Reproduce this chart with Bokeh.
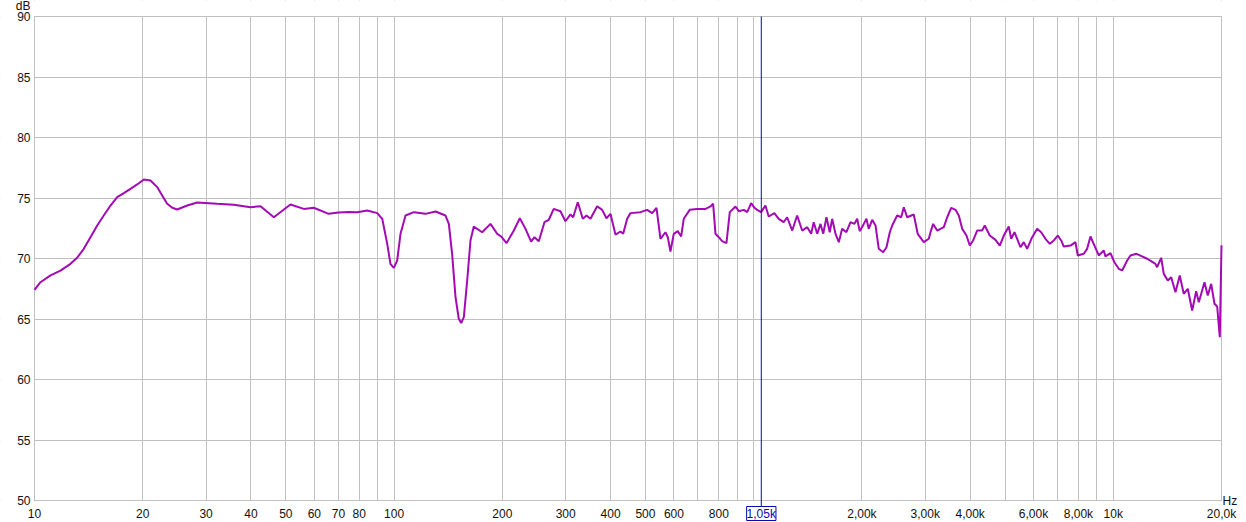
import math
from bokeh.plotting import figure
from bokeh.models import FixedTicker, LinearAxis, LogAxis, Label
from bokeh.embed import file_html
from bokeh.resources import INLINE

# ---- data ----
freq_hz = [10, 10.39, 11.08, 11.81, 12.59, 13.14, 13.71, 14.31, 14.94, 15.58, 16.27, 16.98, 17.72, 18.49, 19.3,
           20.14, 21.02, 21.94, 22.65, 23.39, 24.16, 24.94, 26.59, 28.35,
           32.21, 35.83, 39.87, 42.52, 46.3, 51.5, 56.1, 59.8, 65.8, 70, 75, 79.0, 84.2, 89.8, 92.7, 95.7, 97.7,
           99.8, 102, 104.2, 107.6, 113.4, 122.3, 130.4, 139, 142, 145, 148.2, 151.3, 153.7, 156.3, 159.7, 163.1,
           166.6, 175.8, 185.4, 193.5, 198.5, 205.4, 215.3, 223.7, 232, 240.5, 245.7, 252.6, 261.9, 269.3, 278,
           290.2, 299.6, 309.4, 314.8, 324.2, 334.8, 342.8, 351.7, 367.1, 379, 389.6, 399.7, 412.7, 426.1, 433.6,
           444.8, 454.3, 484.5, 505.6, 522, 536.7, 550.6, 568.5, 577, 586.9, 599.5, 615, 628.6, 639.1, 664, 696.5,
           734.5, 758.4, 771.5, 783, 799.7, 817, 840, 858.1, 890, 909.2, 938.9, 959.5, 984, 1005, 1022.6, 1049,
           1078, 1101, 1142, 1174, 1212, 1239, 1280, 1321, 1364, 1409, 1445, 1469, 1502, 1534, 1561, 1594, 1628,
           1653, 1689, 1725, 1762, 1811, 1859, 1907, 1940, 1972, 2024, 2059, 2089, 2136, 2182, 2228, 2292, 2341,
           2391, 2428, 2506, 2572, 2615, 2672, 2787, 2859, 2972, 3069, 3103, 3156, 3238, 3379, 3453, 3543, 3642,
           3719, 3801, 3907, 3990, 4077, 4183, 4319, 4392, 4535, 4704, 4836, 4961, 5122, 5202, 5313, 5521, 5638,
           5762, 5950, 6143, 6302, 6479, 6660, 6834, 7011, 7165, 7285, 7603, 7850, 7967, 8279, 8460, 8642, 8866,
           9115, 9410, 9512, 9822, 10076, 10358, 10587, 10932, 11163, 11601, 12031, 12423, 12745, 13102, 13244,
           13591, 13819, 14180, 14491, 14894, 15309, 15705, 16116, 16575, 17005, 17294, 17935, 18319, 18720,
           19121, 19453, 19784, 19950, 20000]
spl_db = [67.4, 68.04, 68.6, 69.0, 69.56, 70.06, 70.8, 71.76, 72.73, 73.55, 74.38, 75.07, 75.4, 75.76, 76.12,
          76.53, 76.45, 75.9, 75.21, 74.52, 74.19, 74.05, 74.38, 74.63,
          74.52, 74.44, 74.24, 74.32, 73.41, 74.46, 74.1, 74.19, 73.69, 73.8, 73.85, 73.83, 73.97, 73.75, 73.28,
          71.21, 69.56, 69.23, 69.83, 72.04, 73.55, 73.83, 73.69, 73.88, 73.55, 72.86, 70.39, 66.8, 65.02, 64.66,
          65.15, 68.18, 71.49, 72.64, 72.17, 72.86, 72.04, 71.82, 71.27, 72.31, 73.33, 72.45, 71.4, 71.76, 71.43,
          73.0, 73.2, 74.1, 73.91, 73.08, 73.64, 73.41, 74.65, 73.28, 73.55, 73.28, 74.32, 74.02, 73.33, 73.69,
          71.98, 72.23, 72.04, 73.28, 73.75, 73.83, 74.02, 73.75, 74.19, 71.63, 72.17, 71.76, 70.58, 72.04, 72.26,
          71.82, 73.28, 74.02, 74.1, 74.1, 74.3, 74.52, 72.04, 71.76, 71.43, 71.27, 73.83, 74.3, 73.91, 74.02,
          73.83, 74.57, 74.19, 74.02, 73.83, 74.38, 73.47, 73.75, 73.28, 73.0, 73.41, 72.31, 73.55, 72.31, 72.59,
          72.04, 73.0, 72.04, 72.86, 72.04, 73.41, 72.17, 73.28, 72.04, 71.35, 72.45, 72.17, 73.0, 72.86, 73.28,
          72.26, 72.86, 73.28, 72.45, 73.2, 72.73, 70.8, 70.52, 70.93, 72.17, 72.73, 73.55, 73.41, 74.24, 73.41,
          73.64, 72.04, 71.35, 71.63, 72.17, 72.86, 72.31, 72.59, 73.41, 74.19, 74.02, 73.55, 72.45, 71.9, 71.07,
          71.49, 72.31, 72.31, 72.73, 71.9, 71.54, 71.07, 71.9, 72.64, 71.63, 72.17, 70.93, 71.35, 70.8, 71.76,
          72.45, 72.17, 71.63, 71.21, 71.49, 71.9, 71.49, 70.99, 71.07, 71.35, 70.25, 70.39, 70.8, 71.82, 71.07,
          70.25, 70.66, 70.17, 70.44, 69.69, 69.15, 69.01, 69.83, 70.25, 70.39, 70.17, 69.98, 69.78, 69.56, 69.28,
          70.06, 68.73, 68.18, 68.45, 67.21, 68.6, 67.08, 67.5, 65.7, 67.3, 66.39, 68.04, 66.94, 67.91, 66.26,
          66.03, 63.5, 69.28, 71.1]

x_major_ticks = [10, 20, 30, 40, 50, 60, 70, 80, 100, 200, 300, 400, 500, 600, 800,
                 2000, 3000, 4000, 6000, 8000, 10000, 20000]
x_major_labels = ["10", "20", "30", "40", "50", "60", "70", "80", "100", "200", "300", "400", "500", "600", "800",
                  "2,00k", "3,00k", "4,00k", "6,00k", "8,00k", "10k", "20,0k"]
x_grid_ticks = [10, 20, 30, 40, 50, 60, 70, 80, 90, 100, 200, 300, 400, 500, 600, 700, 800, 900,
                1000, 2000, 3000, 4000, 5000, 6000, 7000, 8000, 9000, 10000, 20000]
y_ticks = [50, 55, 60, 65, 70, 75, 80, 85, 90]
cursor_hz = 1050
cursor_label = "1,05k"
y_unit = "dB"
x_unit = "Hz"

# ---- layout / style ----
W, H = 1246, 522
PAD_L, PAD_R, PAD_T, PAD_B = 34, 25, 16, 22          # plot-area margins in pixels
FONT = "Liberation Sans"
GRID = "#c0c0c0"
CURSOR = "#0a0ab0"
TXT = "#111111"
CURVE = "#a30ab3"

F0, F1 = x_major_ticks[0], x_major_ticks[-1]
Y0, Y1 = y_ticks[0], y_ticks[-1]
px_per_dec = (W - PAD_L - PAD_R) / math.log10(F1 / F0)
px_per_db = (H - PAD_T - PAD_B) / (Y1 - Y0)
# the frame covers the whole canvas; the margins become extra range that is masked white
x_lo = F0 * 10 ** (-PAD_L / px_per_dec)
x_hi = F1 * 10 ** (PAD_R / px_per_dec)
y_lo = Y0 - PAD_B / px_per_db
y_hi = Y1 + PAD_T / px_per_db
eps_db = 0.6 / px_per_db
eps_f = 10 ** (0.6 / px_per_dec)


def plain_axis(ax):
    ax.axis_line_color = None
    ax.major_tick_line_color = None
    ax.minor_tick_line_color = None
    ax.major_tick_out = 0
    ax.major_tick_in = 0
    ax.minor_tick_out = 0
    ax.minor_tick_in = 0
    ax.major_label_text_font = FONT
    ax.major_label_text_font_size = "12px"
    ax.major_label_text_color = TXT


p = figure(width=W, height=H, x_axis_type="log", x_range=(x_lo, x_hi), y_range=(y_lo, y_hi),
           output_backend="svg", toolbar_location=None,
           min_border_left=0, min_border_right=0, min_border_top=0, min_border_bottom=0)
p.background_fill_color = "white"
p.border_fill_color = "white"
p.outline_line_color = None

p.below[0].visible = False
p.left[0].visible = False
grid_x = p.xgrid[0]
grid_y = p.ygrid[0]
grid_x.ticker = FixedTicker(ticks=x_major_ticks, minor_ticks=x_grid_ticks)
grid_y.ticker = FixedTicker(ticks=y_ticks)
grid_x.grid_line_color = GRID
grid_x.minor_grid_line_color = GRID
grid_y.grid_line_color = GRID

# white margins around the 10 Hz..20 kHz x 50..90 dB area
p.quad(left=[x_lo, x_lo, x_lo, F1 * eps_f],
       right=[x_hi, x_hi, F0 / eps_f, x_hi],
       bottom=[y_lo, Y1 + eps_db, y_lo, y_lo],
       top=[Y0 - eps_db, y_hi, y_hi, y_hi],
       fill_color="white", line_color=None)

# axes drawn on the edges of the 10 Hz..20 kHz x 50..90 dB area
f_axis = LogAxis(ticker=FixedTicker(ticks=x_major_ticks),
                 major_label_overrides={t: s for t, s in zip(x_major_ticks, x_major_labels)},
                 fixed_location=Y0)
plain_axis(f_axis)
f_axis.major_label_standoff = 6
p.add_layout(f_axis, "below")

db_axis = LinearAxis(ticker=FixedTicker(ticks=y_ticks), fixed_location=F0)
plain_axis(db_axis)
db_axis.major_label_standoff = 4
p.add_layout(db_axis, "left")

hz_axis = LinearAxis(ticker=FixedTicker(ticks=[Y0]), major_label_overrides={Y0: x_unit}, fixed_location=F1)
plain_axis(hz_axis)
hz_axis.major_label_standoff = 1
p.add_layout(hz_axis, "right")

p.add_layout(Label(x=F0, y=Y1, text=y_unit, text_align="right", text_baseline="bottom",
                   x_offset=-4, y_offset=4, text_font=FONT, text_font_size="12px", text_color=TXT))

# data curve
p.line(freq_hz, spl_db, line_color=CURVE, line_width=2)

# cursor and its read-out
p.segment(x0=[cursor_hz], y0=[Y1], x1=[cursor_hz], y1=[Y0 - 6 / px_per_db], line_color=CURSOR, line_width=1)
p.add_layout(Label(x=cursor_hz, y=Y0, text=cursor_label, text_align="center", text_baseline="top",
                   y_offset=-6, text_font=FONT, text_font_size="12px", text_color=CURSOR,
                   border_line_color=CURSOR, border_line_width=1, background_fill_color="white"))

open("out.html", "w").write(file_html(p, INLINE))
